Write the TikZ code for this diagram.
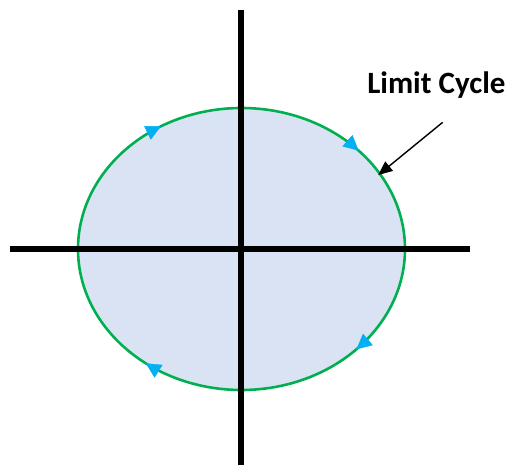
\documentclass[tikz,border=0pt]{standalone}
\usepackage{fontspec}
\setmainfont{Carlito}
\usetikzlibrary{arrows.meta,decorations.markings}
\definecolor{fillblue}{HTML}{DAE3F3}
\definecolor{cyclegreen}{HTML}{00B050}
\definecolor{arrowblue}{HTML}{00B0F0}
\tikzset{
  axis/.style={line width=5.5pt, black},
  cycle/.style={line width=2.6pt, draw=cyclegreen, fill=fillblue},
  flowtip/.style={arrowblue},
  flowmarks/.style={postaction={decorate, decoration={markings,
    mark=at position 0.117 with {\arrowreversed[flowtip]{Triangle[length=15pt,width=15pt]}},
    mark=at position 0.337 with {\arrowreversed[flowtip]{Triangle[length=15pt,width=15pt]}},
    mark=at position 0.645 with {\arrowreversed[flowtip]{Triangle[length=15pt,width=15pt]}},
    mark=at position 0.880 with {\arrowreversed[flowtip]{Triangle[length=15pt,width=15pt]}}}}},
  pointer/.style={line width=1.4pt, -{Triangle[length=14pt,width=12pt]}},
  lbl/.style={font=\bfseries\fontsize{31}{34}\selectfont, anchor=base, inner sep=0pt}
}
\begin{document}
\begin{tikzpicture}[x=1pt,y=1pt]
\useasboundingbox (0,0) rectangle (509,466);
\coordinate (c) at (241.5,217);
\path[cycle] (c) ellipse [x radius=163.5, y radius=141];
\path[flowmarks] (c) ellipse [x radius=163.5, y radius=141];
\coordinate (hl) at (10,217);
\coordinate (hr) at (470,217);
\coordinate (vt) at (241,456);
\coordinate (vb) at (241,1);
\draw[axis] (hl) -- (hr);
\draw[axis] (vb) -- (vt);
\node[lbl] (label) at (436.4,372.7) {Limit Cycle};
\coordinate (ps) at (442.7,343.7);
\coordinate (pe) at (378.3,291);
\draw[pointer] (ps) -- (pe);
\end{tikzpicture}
\end{document}
